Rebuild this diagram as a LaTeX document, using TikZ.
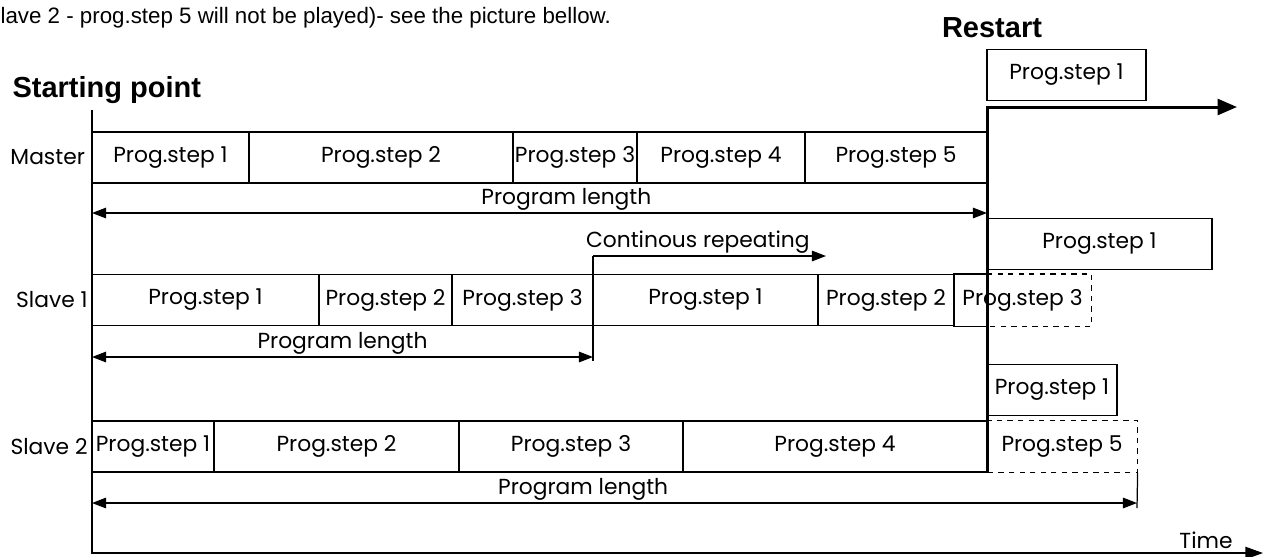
\documentclass[tikz,border=0pt]{standalone}
\usepackage{fontspec}
\setmainfont{Poppins}
\newfontfamily\headfont{Liberation Sans}
\usetikzlibrary{arrows.meta,positioning}

\begin{document}
\begin{tikzpicture}[x=0.02cm, y=-0.02cm, font=\fontsize{12.4}{14}\selectfont, line width=0.7pt, >={Triangle[length=8pt,width=6pt]}]
\useasboundingbox (0,0) rectangle (1264,556);
\tikzset{stepbox/.style={draw, inner sep=0pt, minimum height=51*0.02cm},
  headline/.style={font=\headfont\bfseries\fontsize{16.5}{18}\selectfont}}
% text above
\node[anchor=west, inner sep=0pt, font=\headfont\fontsize{12.7}{15}\selectfont] (intro) at (0,18) {lave 2 - prog.step 5 will not be played)- see the picture bellow.};
\node[headline, anchor=west, inner sep=0pt] (start) at (12,90) {Starting point};
\node[headline] (restart) at (992,28) {Restart};
% axes
\coordinate (o1) at (92,110); \coordinate (o2) at (1263,553);
\draw[-{Triangle[length=10pt,width=7pt]}] (o1) |- (o2);
\node (time) at (1206,540) {Time};
% master
\foreach \a/\b/\t [count=\i] in {92/249/1,249/513/2,513/637/3,637/805/4,805/987/5}
  \node[stepbox, minimum width={(\b-\a)*0.02cm}] (m\i) at ({(\a+\b)/2},157.5) {Prog.step \t};
\node[left=0pt of m1] (master) {Master};
% slave 1
\foreach \a/\b/\t [count=\i] in {92/319/1,319/452/2,452/593/3,593/818/1,818/954/2}
  \node[stepbox, minimum width={(\b-\a)*0.02cm}] (s\i) at ({(\a+\b)/2},300) {Prog.step \t};
\node[stepbox, draw=none, minimum width=137*0.02cm] (s6) at (1022.5,300) {Prog.step 3};
\node[left=-1.5pt of s1] (slave1) {Slave 1};
% slave 2
\foreach \a/\b/\t [count=\i] in {92/214/1,214/459/2,459/683/3,683/987/4}
  \node[stepbox, minimum width={(\b-\a)*0.02cm}] (t\i) at ({(\a+\b)/2},446.5) {Prog.step \t};
\node[stepbox, draw=none, minimum width=150*0.02cm] (t5) at (1062,446.5) {Prog.step 5};
\node[left=-1.5pt of t1] (slave2) {Slave 2};
% after restart
\node[stepbox, minimum width=159*0.02cm] (r1) at (1066.5,75) {Prog.step 1};
\node[stepbox, minimum width=225*0.02cm] (r2) at (1099.5,244) {Prog.step 1};
\node[stepbox, minimum width=130*0.02cm] (r3) at (1052,390) {Prog.step 1};
% restart line
\coordinate (rs) at (987,107); \coordinate (re) at (987,472); \coordinate (ra) at (1237,107);
% not played parts
\draw (s6.north west -| rs) -- (s6.north west) -- (s6.south west) -- (s6.south west -| rs);
\draw[dashed] (s6.north west -| rs) -| (s6.south east) -- (s6.south west -| rs);
\draw[dashed] (t5.north west) -| (t5.south east) -- (t5.south west);
% program lengths
\coordinate (pm1) at (92,213); \coordinate (pm2) at (987,213);
\draw[<->] (pm1) -- node[above, inner sep=1pt, pos=0.53] (lenm) {Program length} (pm2);
\coordinate (ps1) at (92,357); \coordinate (ps2) at (593,357);
\draw[<->] (ps1) -- node[above, inner sep=1pt] (lens) {Program length} (ps2);
\coordinate (pt1) at (92,503); \coordinate (pt2) at (1137,503);
\draw[<->] (pt1) -- node[above, inner sep=1pt, pos=0.47] (lent) {Program length} (pt2);
\draw (t5.south east) -- ([yshift=-5*0.02cm]pt2);
% repeating
\coordinate (c1) at (593,256); \coordinate (c2) at (826,256);
\draw[->] (c1) -- node[above, inner sep=1pt, pos=0.45] (rep) {Continous repeating} (c2);
\draw (c1) -- ([yshift=-4*0.02cm]ps2);
\draw[line width=1.7pt, -{Triangle[length=11pt,width=9pt]}] (re) -- (rs) -- (ra);
\end{tikzpicture}
\end{document}
